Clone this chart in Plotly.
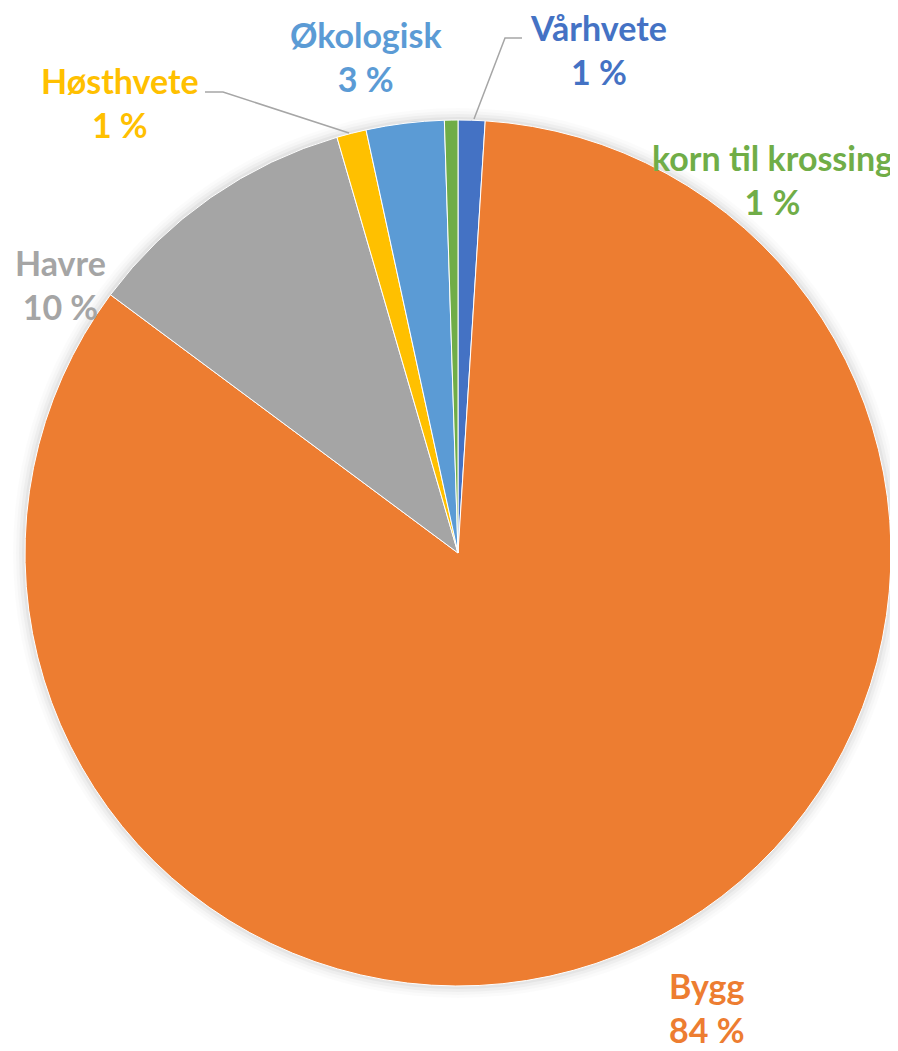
import plotly.graph_objects as go

# ---- data ----
categories = ["Vårhvete", "Bygg", "Havre", "Høsthvete", "Økologisk", "korn til krossing"]
values = [1.0, 84.0, 10.3, 1.1, 2.9, 0.5]
colors = ["#4472C4", "#ED7D31", "#A5A5A5", "#FFC000", "#5B9BD5", "#70AD47"]

# page size and body offset of the plot div
PW, PH, OFF = 898, 1051, 8
W, H = PW - OFF, PH - OFF
CX, CY, R = 458, 553, 433  # in page pixels


def fx(x):
    return (x - OFF) / W


def fy(y):
    return 1 - (y - OFF) / H


total = sum(values)
pct_text = [f"{int(v / total * 100 + 0.5)} %" for v in values]

fig = go.Figure()
fig.add_trace(go.Pie(
    labels=categories,
    values=values,
    marker=dict(colors=colors, line=dict(color="white", width=1)),
    sort=False,
    direction="clockwise",
    rotation=0,
    textinfo="none",
    hoverinfo="label+percent",
    showlegend=False,
    domain=dict(x=[fx(CX - R), fx(CX + R)], y=[fy(CY + R), fy(CY - R)]),
))

# soft shadow around the pie
shapes = []
for d, a in [(12, 0.015), (9, 0.02), (6, 0.03), (3, 0.04)]:
    r = R + d
    shapes.append(dict(type="circle", xref="paper", yref="paper", layer="below",
                       x0=fx(CX - r), x1=fx(CX + r),
                       y0=fy(CY + r), y1=fy(CY - r),
                       line=dict(width=0), fillcolor=f"rgba(0,0,0,{a})"))


def px_path(pts):
    return "M " + " L ".join(f"{fx(x):.5f},{fy(y):.5f}" for x, y in pts)


leaders = {
    "Høsthvete": [(205, 92), (223, 92), (349, 133)],
    "Vårhvete": [(522, 38), (505, 38), (474, 119)],
}
for pts in leaders.values():
    shapes.append(dict(type="path", xref="paper", yref="paper", path=px_path(pts),
                       line=dict(color="#A6A6A6", width=1.5)))

# label positions (page-pixel centers of the two-line label blocks)
label_pos = {
    "Vårhvete": (598, 50),
    "Bygg": (707, 1007),
    "Havre": (60, 284),
    "Høsthvete": (120, 102),
    "Økologisk": (366, 56),
    "korn til krossing": (772, 179),
}

annotations = []
for cat, col, pt in zip(categories, colors, pct_text):
    x, y = label_pos[cat]
    annotations.append(dict(
        x=fx(x), y=fy(y), xref="paper", yref="paper",
        xanchor="center", yanchor="middle", showarrow=False,
        text=f"<b>{cat}</b><br><b>{pt}</b>",
        font=dict(family="Lato", size=34, color=col),
        align="center",
    ))

fig.update_layout(
    width=W, height=H,
    margin=dict(l=0, r=0, t=0, b=0),
    paper_bgcolor="white",
    plot_bgcolor="white",
    shapes=shapes,
    annotations=annotations,
)

fig.write_html("out.html")
